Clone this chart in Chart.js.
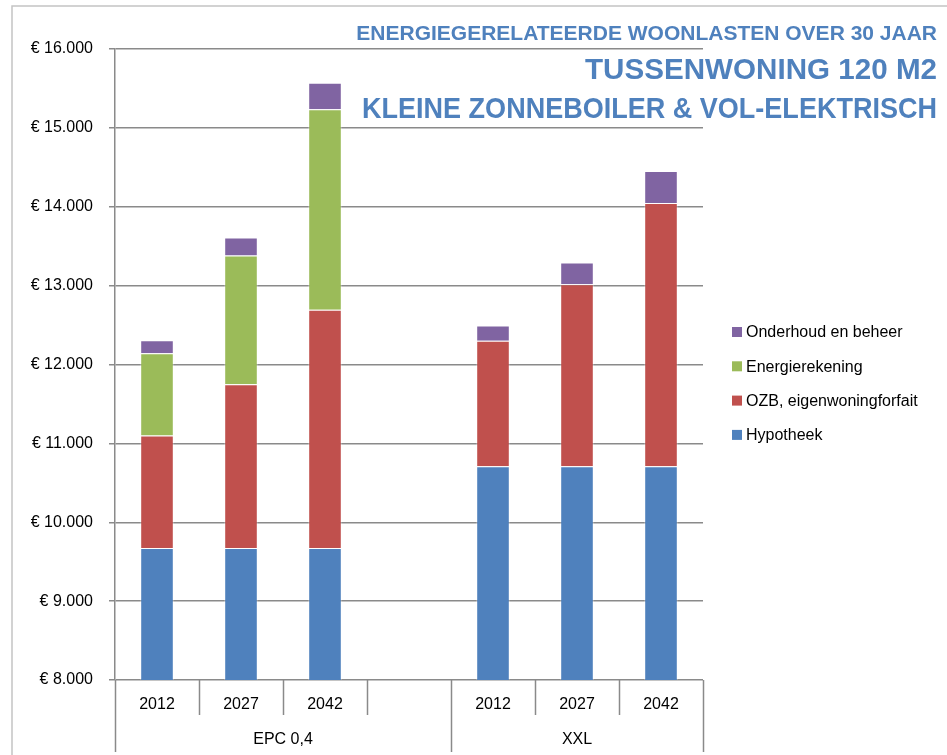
<!DOCTYPE html>
<html>
<head>
<meta charset="utf-8">
<script src="https://cdn.jsdelivr.net/npm/chart.js@4/dist/chart.umd.min.js"></script>
<style>
  html, body { margin:0; padding:0; background:#fff; }
  #wrap { width:947px; height:755px; position:relative; }
</style>
</head>
<body>
<div id="wrap"><canvas id="chart"></canvas></div>
<script>
// ===== DATA =====
const years = ['2012','2027','2042','','2012','2027','2042'];
const groups = [ {label:'EPC 0,4', from:0, to:3}, {label:'XXL', from:4, to:6} ];
const hypotheek = [9673, 9673, 9673, null, 10710, 10710, 10710];
const ozb       = [1428, 2077, 3021, null, 1590, 2307, 3337];
const energie   = [1043, 1631, 2543, null, 0, 0, 0];
const onderhoud = [165, 229, 336, null, 196, 275, 407];
const titleLines = ['ENERGIEGERELATEERDE WOONLASTEN OVER 30 JAAR', 'TUSSENWONING 120 M2', 'KLEINE ZONNEBOILER & VOL-ELEKTRISCH'];

const FONT = "'Liberation Sans', Arial, sans-serif";
const GRID = '#8a8a8a';
const COLORS = { hyp:'#4F81BD', ozb:'#C0504D', energie:'#9BBB59', onderhoud:'#8064A2' };

const datasets = [
  { label:'Hypotheek', data:hypotheek, backgroundColor:COLORS.hyp },
  { label:'OZB, eigenwoningforfait', data:ozb, backgroundColor:COLORS.ozb },
  { label:'Energierekening', data:energie, backgroundColor:COLORS.energie },
  { label:'Onderhoud en beheer', data:onderhoud, backgroundColor:COLORS.onderhoud },
].map(d => ({ ...d, borderColor:'rgba(255,255,255,0.35)', borderWidth:{top:1,left:1,right:1,bottom:0}, borderSkipped:false, barPercentage:0.4, categoryPercentage:1 }));

// titel, legenda, groepslabels en kader
const decor = {
  id:'decor',
  beforeDraw(chart) {
    const c = chart.ctx;
    c.save(); c.fillStyle = '#fff'; c.fillRect(0, 0, chart.width, chart.height); c.restore();
  },
  afterDraw(chart) {
    const c = chart.ctx, a = chart.chartArea;
    c.save();
    // kader
    c.strokeStyle = '#c4c4c4'; c.lineWidth = 1.5;
    c.beginPath(); c.moveTo(12, chart.height); c.lineTo(12, 6); c.lineTo(chart.width, 6); c.stroke();

    // scheidingslijnen x-as
    const n = years.length, step = (a.right - a.left) / n;
    const bounds = [0]; groups.forEach(g => bounds.push(g.to + 1));
    c.strokeStyle = GRID; c.lineWidth = 1.5;
    for (let i = 0; i <= n; i++) {
      const px = Math.round(a.left + i*step) + 0.5;
      const isGroup = bounds.includes(i);
      c.beginPath(); c.moveTo(px, a.bottom); c.lineTo(px, isGroup ? 752 : 715); c.stroke();
    }
    // groepslabels
    c.fillStyle = '#000'; c.font = '16px ' + FONT; c.textAlign = 'center'; c.textBaseline = 'middle';
    groups.forEach(g => {
      const cx = a.left + ((g.from + g.to + 1) / 2) * step;
      c.fillText(g.label, cx, 740);
    });

    // titel
    c.fillStyle = '#4F81BD'; c.textAlign = 'right'; c.textBaseline = 'middle';
    c.font = 'bold 21px ' + FONT; c.fillText(titleLines[0], 937, 34, 582);
    c.font = 'bold 30px ' + FONT; c.fillText(titleLines[1], 937, 71, 352);
    c.font = 'bold 30px ' + FONT; c.fillText(titleLines[2], 937, 110, 575);

    // legenda (omgekeerde volgorde)
    const items = chart.data.datasets.slice().reverse();
    c.textAlign = 'left'; c.font = '16px ' + FONT;
    items.forEach((d, i) => {
      const y = 332 + i*34.3;
      c.fillStyle = d.backgroundColor; c.fillRect(732, y - 5, 10, 10);
      c.fillStyle = '#000'; c.fillText(d.label, 746, y + 1);
    });
    c.restore();
  }
};

new Chart(document.getElementById('chart'), {
  type:'bar',
  data:{ labels:years, datasets },
  options:{
    responsive:true, maintainAspectRatio:false, animation:false,
    layout:{ padding:{ left:0, right:244, top:49, bottom:0 } },
    plugins:{ legend:{display:false}, tooltip:{enabled:false} },
    scales:{
      x:{ stacked:true, grid:{display:false, drawTicks:false}, border:{display:false},
          ticks:{ color:'#000', font:{family:FONT, size:16}, padding:15, maxRotation:0, autoSkip:false },
          afterFit:s => { s.height = 75; } },
      y:{ stacked:true, min:8000, max:16000,
          grid:{ color:GRID, lineWidth:1.5, tickLength:6, tickColor:GRID },
          border:{ display:true, color:GRID, width:1.5 },
          ticks:{ stepSize:1000, color:'#000', font:{family:FONT, size:16}, padding:16,
                  callback:v => '€ ' + v.toLocaleString('nl-NL') },
          afterFit:s => { s.width = 115; } }
    }
  },
  plugins:[decor]
});
</script>
</body>
</html>
